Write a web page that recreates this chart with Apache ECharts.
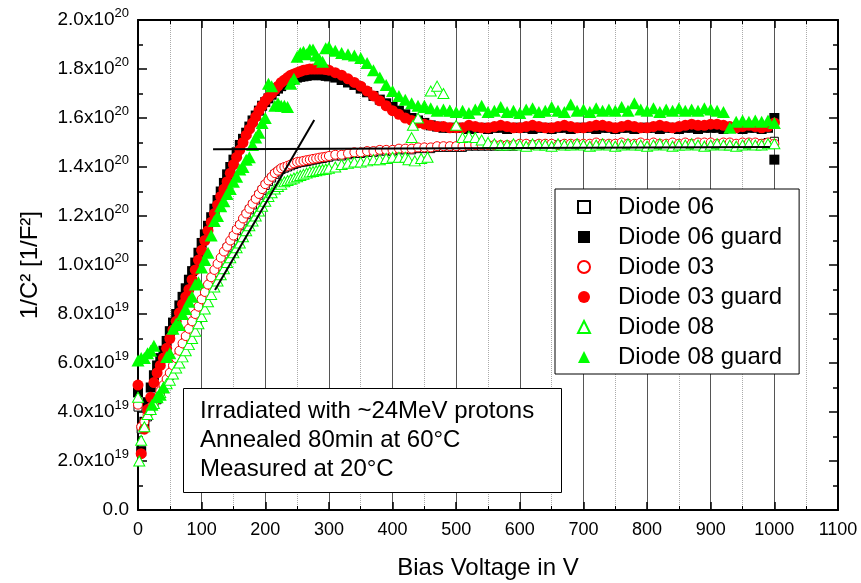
<!DOCTYPE html>
<html>
<head>
<meta charset="utf-8">
<script src="https://cdn.jsdelivr.net/npm/echarts@6.0.0/dist/echarts.min.js"></script>
<style>
  html, body { margin: 0; padding: 0; background: #fff; }
  #cv { width: 861px; height: 583px; }
</style>
</head>
<body>
<div id="cv"></div>
<script>
// bias voltage steps (V): 5 V up to 300 V, then 10 V; values in units of 1e19 F^-2
const volts = [0,5,10,15,20,25,30,35,40,45,50,55,60,65,70,75,80,85,90,95,
  100,105,110,115,120,125,130,135,140,145,150,155,160,165,170,175,180,185,190,195,
  200,205,210,215,220,225,230,235,240,245,250,255,260,265,270,275,280,285,290,295,300,
  310,320,330,340,350,360,370,380,390,400,410,420,430,440,450,460,470,480,490,
  500,510,520,530,540,550,560,570,580,590,600,610,620,630,640,650,660,670,680,690,
  700,710,720,730,740,750,760,770,780,790,800,810,820,830,840,850,860,870,880,890,
  900,910,920,930,940,950,960,970,980,990,1000];

const diode06 = [4.2,3.3,3.5,3.8,4.1,4.3,4.5,4.75,5.0,5.25,5.5,5.8,6.1,6.4,6.7,7.0,7.3,7.6,7.9,8.2,
  8.5,8.8,9.1,9.4,9.7,9.95,10.2,10.45,10.7,10.9,11.15,11.4,11.6,11.8,12.05,12.25,12.45,12.65,12.85,13.05,
  13.25,13.4,13.55,13.7,13.8,13.9,13.95,14.0,14.05,14.1,14.15,14.18,14.2,14.22,14.25,14.28,14.3,14.33,14.35,14.38,14.4,
  14.45,14.45,14.5,14.55,14.55,14.6,14.6,14.65,14.65,14.65,14.7,14.7,14.7,14.75,14.75,14.75,14.8,14.8,14.8,
  14.8,14.8,14.85,14.85,14.85,14.85,14.85,14.85,14.85,14.85,14.9,14.9,14.9,14.9,14.9,14.9,14.9,14.9,14.9,14.9,
  14.9,14.9,14.9,14.9,14.9,14.9,14.9,14.9,14.9,14.9,14.9,14.9,14.9,14.9,14.9,14.9,14.9,14.9,14.9,14.9,
  14.9,14.9,14.9,14.9,14.9,14.9,14.9,14.9,14.95,15.0,15.05];

const diode06Guard = [4.8,2.4,3.6,4.4,5.0,5.5,5.9,6.2,6.5,6.9,7.3,7.65,8.0,8.35,8.7,9.05,9.4,9.75,10.1,10.5,
  10.9,11.25,11.6,11.95,12.3,12.65,13.0,13.35,13.7,14.0,14.3,14.6,14.9,15.15,15.4,15.65,15.9,16.1,16.3,16.5,
  16.65,16.8,16.95,17.1,17.2,17.3,17.4,17.5,17.55,17.6,17.65,17.68,17.7,17.72,17.75,17.75,17.75,17.75,17.75,17.72,17.7,
  17.65,17.55,17.45,17.35,17.2,17.05,16.9,16.75,16.6,16.45,16.3,16.15,16.0,15.9,15.8,15.7,15.65,15.6,15.6,
  15.6,15.6,15.55,15.6,15.6,15.55,15.6,15.6,15.55,15.6,15.6,15.6,15.55,15.6,15.6,15.55,15.6,15.6,15.55,15.6,
  15.6,15.6,15.55,15.6,15.6,15.55,15.6,15.6,15.55,15.6,15.6,15.6,15.55,15.6,15.6,15.55,15.6,15.6,15.55,15.6,
  15.6,15.6,15.55,15.6,15.6,15.55,15.6,15.6,15.55,15.6,16.0];
const diode06GuardExtra = [[1000, 14.3]];

const diode03 = [4.3,3.4,3.6,3.9,4.2,4.4,4.6,4.85,5.1,5.35,5.6,5.9,6.2,6.5,6.8,7.1,7.4,7.7,8.0,8.3,
  8.6,8.9,9.2,9.5,9.8,10.05,10.3,10.55,10.75,11.0,11.2,11.45,11.65,11.9,12.1,12.3,12.5,12.7,12.9,13.1,
  13.3,13.45,13.6,13.75,13.85,13.95,14.0,14.05,14.1,14.15,14.2,14.22,14.25,14.28,14.3,14.33,14.35,14.38,14.4,14.42,14.45,
  14.5,14.5,14.55,14.6,14.6,14.65,14.65,14.7,14.7,14.7,14.75,14.75,14.75,14.8,14.8,14.8,14.85,14.85,14.85,
  14.85,14.85,14.9,14.9,14.9,14.9,14.9,14.9,14.9,14.9,14.95,14.95,14.9,14.95,14.95,14.95,14.9,14.95,14.95,14.95,
  14.95,14.95,15.0,14.95,14.95,14.95,15.0,14.95,14.95,15.0,14.95,15.0,14.95,14.95,15.0,14.95,15.0,14.95,15.0,15.0,
  15.0,14.95,15.0,15.0,14.95,15.0,15.0,15.0,14.95,15.0,14.95];

const diode03Guard = [5.1,2.3,3.3,4.1,4.6,5.2,5.6,5.9,6.2,6.6,7.0,7.35,7.7,8.05,8.4,8.7,9.0,9.4,9.8,10.2,
  10.6,11.0,11.4,11.75,12.1,12.45,12.8,13.1,13.4,13.75,14.1,14.4,14.7,15.0,15.3,15.55,15.8,16.05,16.3,16.5,
  16.7,16.85,17.0,17.15,17.3,17.45,17.55,17.65,17.75,17.8,17.85,17.9,17.95,17.97,18.0,18.0,18.0,18.0,18.0,17.98,17.95,
  17.85,17.75,17.6,17.45,17.3,17.1,16.9,16.7,16.5,16.3,16.15,16.0,15.9,15.8,15.75,15.7,15.65,15.65,15.6,
  15.6,15.6,15.7,15.65,15.6,15.6,15.65,15.7,15.65,15.6,15.6,15.65,15.7,15.65,15.6,15.6,15.65,15.7,15.65,15.6,
  15.6,15.65,15.7,15.7,15.65,15.6,15.65,15.7,15.65,15.6,15.6,15.65,15.7,15.65,15.6,15.65,15.7,15.75,15.7,15.7,
  15.75,15.75,15.7,15.65,15.6,15.65,15.7,15.65,15.6,15.65,15.8];

const diode08 = [4.6,2.85,3.4,3.9,4.1,4.35,4.6,4.8,5.0,5.15,5.3,5.55,5.8,6.0,6.25,6.5,6.75,7.0,7.3,7.6,
  7.9,8.2,8.5,8.8,9.1,9.35,9.6,9.85,10.1,10.3,10.5,10.7,10.9,11.15,11.4,11.6,11.8,12.0,12.2,12.4,
  12.6,12.8,12.95,13.1,13.2,13.3,13.4,13.45,13.5,13.55,13.6,13.65,13.7,13.75,13.8,13.82,13.85,13.88,13.9,13.92,13.95,
  14.0,14.1,14.15,14.2,14.2,14.25,14.3,14.3,14.35,14.4,14.4,14.4,15.2,16.0,16.5,17.1,17.3,17.0,16.3,
  15.7,15.2,15.25,15.2,15.1,15.0,14.95,14.9,14.9,14.95,14.9,14.85,14.95,14.9,14.9,14.85,14.95,14.9,14.9,14.95,
  14.9,14.85,14.9,14.95,14.9,14.85,14.9,14.95,14.9,14.9,14.85,14.9,14.95,14.9,14.85,14.9,14.9,14.95,14.9,14.85,
  14.9,14.95,14.9,14.9,14.85,14.9,14.95,14.9,14.9,14.95,14.95];
const diode08Extra = [[2, 2.0], [425, 14.3], [435, 14.25], [445, 14.35], [455, 14.4], [432, 15.7]];

const diode08Guard = [6.1,6.2,6.2,6.4,6.5,6.7,4.6,4.7,5.0,6.25,6.4,7.4,7.6,7.55,8.0,8.2,8.5,8.7,9.2,9.3,
  9.9,10.2,10.5,11.2,11.8,12.0,12.4,12.6,12.9,13.1,13.4,13.6,13.9,14.0,14.3,14.4,14.9,15.2,15.4,15.8,
  16.0,17.4,17.3,16.5,16.6,16.5,16.5,16.45,17.4,17.6,18.5,18.65,18.7,18.6,18.8,18.8,18.55,18.4,18.3,18.85,18.9,
  18.75,18.65,18.6,18.55,18.45,18.25,17.95,17.65,17.35,17.1,16.9,16.75,16.6,16.5,16.45,16.4,16.3,16.35,16.3,
  16.25,16.3,16.2,16.35,16.5,16.25,16.3,16.45,16.25,16.3,16.2,16.35,16.4,16.25,16.3,16.45,16.3,16.25,16.55,16.3,
  16.35,16.25,16.4,16.3,16.35,16.3,16.45,16.3,16.6,16.35,16.3,16.4,16.25,16.35,16.3,16.4,16.3,16.35,16.3,16.4,
  16.35,16.3,16.25,15.6,15.85,15.9,15.85,15.9,15.85,15.9,15.8];
const diode08GuardExtra = [[22, 4.3]];

// straight-line fits drawn on the plot
const kneeFitV = [121, 277];
const kneeFitC = [8.98, 15.92];
const plateauFitV = [118, 993];
const plateauFitC = [14.72, 14.82];

const legendNames = ['Diode 06', 'Diode 06 guard', 'Diode 03', 'Diode 03 guard', 'Diode 08', 'Diode 08 guard'];

const FONT = 'Liberation Sans, Arial, sans-serif';

function pts(vals, extra) {
  const out = vals.map((v, i) => [volts[i], v]);
  return extra ? out.concat(extra) : out;
}

function scatter(name, data, symbol, size, color, open) {
  return {
    name: name,
    type: 'scatter',
    data: data,
    symbol: symbol,
    symbolSize: size,
    itemStyle: open
      ? { color: '#fff', borderColor: color, borderWidth: 1, opacity: 1 }
      : { color: color, opacity: 1 },
    emphasis: { disabled: true },
    silent: true
  };
}

function fitLine(xs, ys) {
  return {
    type: 'line',
    data: xs.map((x, i) => [x, ys[i]]),
    symbol: 'none',
    lineStyle: { color: '#000', width: 2 },
    z: 5,
    silent: true
  };
}

function yLabel(v) {
  if (v === 0) return '{m|0.0}';
  if (v < 10) return '{m|' + v.toFixed(1) + 'x10}{s|19}';
  return '{m|' + (v / 10).toFixed(1) + 'x10}{s|20}';
}

const frameLine = { lineStyle: { color: '#000', width: 2 }, onZero: false };

const option = {
  animation: false,
  textStyle: { fontFamily: FONT },
  grid: { left: 138, right: 23, top: 20, bottom: 73, containLabel: false, outerBoundsMode: 'none' },
  title: {
    text: 'Irradiated with ~24MeV protons\nAnnealed 80min at 60°C\nMeasured at 20°C',
    left: 183,
    top: 388,
    padding: [9, 28, 9, 17],
    borderColor: '#000',
    borderWidth: 1,
    backgroundColor: '#fff',
    textStyle: { fontSize: 24, fontWeight: 'normal', color: '#000', lineHeight: 29, fontFamily: FONT }
  },
  legend: {
    data: legendNames,
    orient: 'vertical',
    left: 555,
    top: 189,
    padding: [6, 17, 5, 22],
    itemGap: 6,
    itemWidth: 12,
    itemHeight: 12,
    selectedMode: false,
    borderColor: '#000',
    borderWidth: 1,
    backgroundColor: '#fff',
    textStyle: { fontSize: 24, lineHeight: 24, color: '#000', fontFamily: FONT, padding: [0, 0, 0, 23] }
  },
  xAxis: [
    {
      type: 'value', min: 0, max: 1100, interval: 100, position: 'bottom',
      axisLine: frameLine,
      axisTick: { inside: true, length: 8, lineStyle: { color: '#000', width: 1.5 } },
      minorTick: { show: true, splitNumber: 2, length: 4, lineStyle: { color: '#000', width: 1 } },
      axisLabel: { color: '#000', fontSize: 18, margin: 11, fontFamily: FONT, formatter: v => String(v) },
      splitLine: { show: true, lineStyle: { color: '#555', width: 1 } },
      minorSplitLine: { show: true, lineStyle: { color: '#aaa', width: 1, type: 'dotted' } },
      name: 'Bias Voltage in V', nameLocation: 'middle', nameGap: 46,
      nameTextStyle: { fontSize: 24, color: '#000', fontFamily: FONT }
    },
    {
      type: 'value', min: 0, max: 1100, interval: 100, position: 'top',
      axisLine: frameLine,
      axisTick: { inside: true, length: 8, lineStyle: { color: '#000', width: 1.5 } },
      minorTick: { show: true, splitNumber: 2, length: 4, lineStyle: { color: '#000', width: 1 } },
      axisLabel: { show: false },
      splitLine: { show: false }
    }
  ],
  yAxis: [
    {
      type: 'value', min: 0, max: 20, interval: 2, position: 'left',
      axisLine: frameLine,
      axisTick: { inside: true, length: 9, lineStyle: { color: '#000', width: 1.5 } },
      minorTick: { show: true, splitNumber: 2, length: 5, lineStyle: { color: '#000', width: 1.5 } },
      axisLabel: {
        color: '#000', margin: 9, formatter: yLabel,
        rich: {
          m: { fontSize: 19, lineHeight: 26, color: '#000', fontFamily: FONT },
          s: { fontSize: 13, verticalAlign: 'top', color: '#000', fontFamily: FONT }
        }
      },
      splitLine: { show: false },
      name: '1/C² [1/F²]', nameLocation: 'middle', nameGap: 96,
      nameTextStyle: { fontSize: 24, color: '#000', fontFamily: FONT }
    },
    {
      type: 'value', min: 0, max: 20, interval: 2, position: 'right',
      axisLine: frameLine,
      axisTick: { inside: true, length: 9, lineStyle: { color: '#000', width: 1.5 } },
      minorTick: { show: true, splitNumber: 2, length: 5, lineStyle: { color: '#000', width: 1.5 } },
      axisLabel: { show: false },
      splitLine: { show: false }
    }
  ],
  series: [
    scatter('Diode 06', pts(diode06), 'rect', 8, '#000', true),
    scatter('Diode 06 guard', pts(diode06Guard, diode06GuardExtra), 'rect', 10, '#000', false),
    scatter('Diode 03', pts(diode03), 'circle', 9, '#ff0000', true),
    scatter('Diode 03 guard', pts(diode03Guard), 'circle', 11, '#ff0000', false),
    scatter('Diode 08', pts(diode08, diode08Extra), 'triangle', [11, 10], '#00ff00', true),
    scatter('Diode 08 guard', pts(diode08Guard, diode08GuardExtra), 'triangle', [13, 12], '#00ff00', false),
    fitLine(kneeFitV, kneeFitC),
    fitLine(plateauFitV, plateauFitC)
  ]
};

const chart = echarts.init(document.getElementById('cv'));
chart.setOption(option);
</script>
</body>
</html>
